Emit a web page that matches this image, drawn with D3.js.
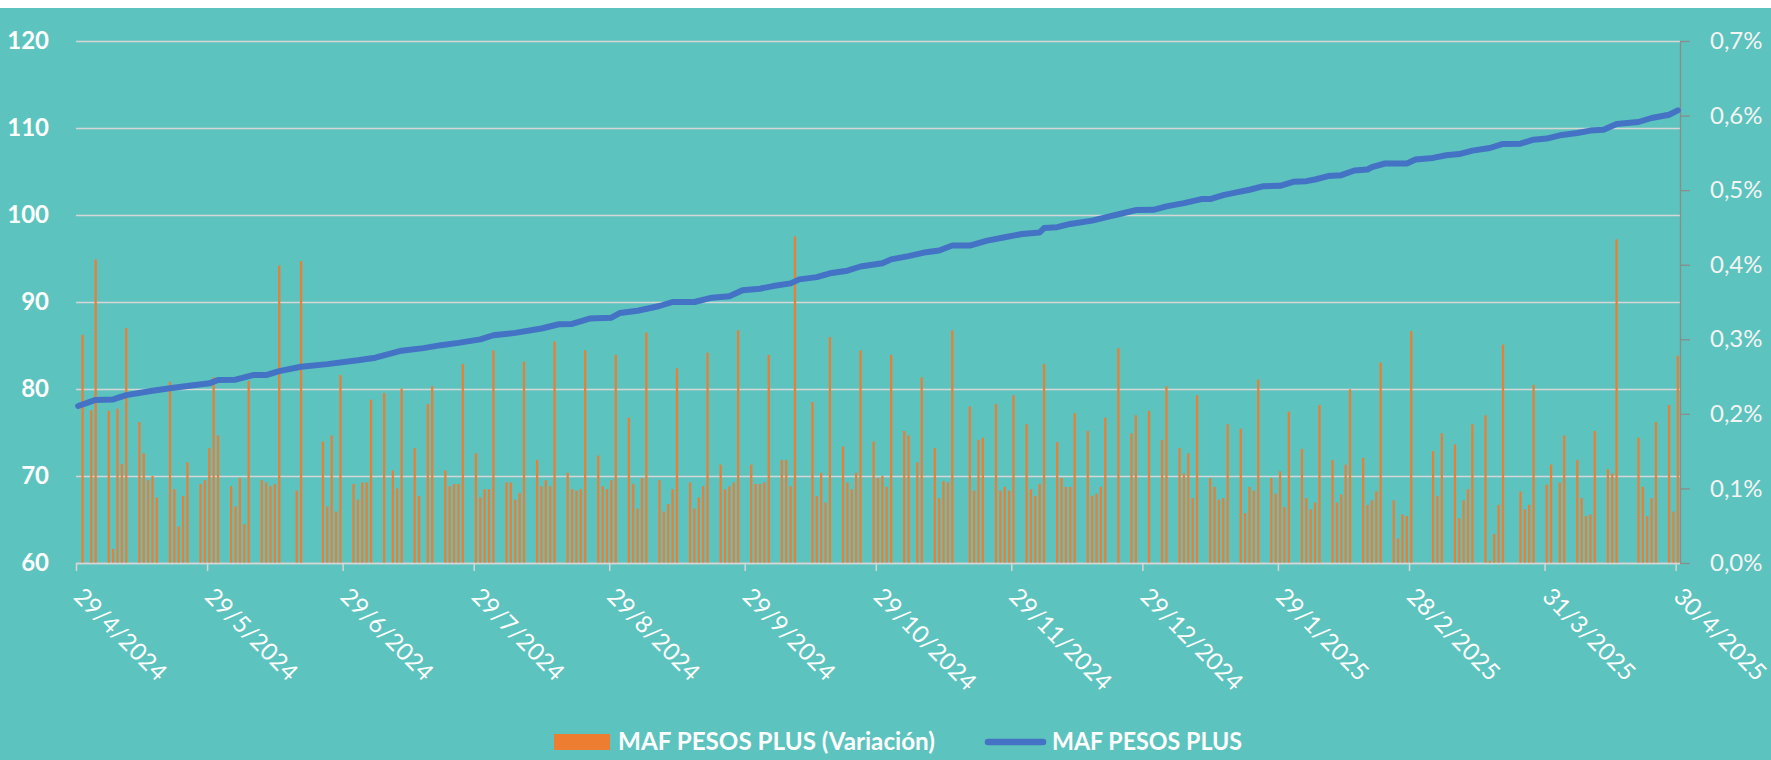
<!DOCTYPE html>
<html>
<head>
<meta charset="utf-8">
<script src="https://cdn.jsdelivr.net/npm/d3@7"></script>
<style>
  body { margin: 0; background: #fff; }
  svg { display: block; font-family: Lato, 'Open Sans', sans-serif; }
</style>
</head>
<body>
<div id="chart"></div>
<script>
// tick labels
const leftTicks = [60, 70, 80, 90, 100, 110, 120]
const rightTicks = [0, 0.1, 0.2, 0.3, 0.4, 0.5, 0.6, 0.7]
const xTicks = ['2024-04-29', '2024-05-29', '2024-06-29', '2024-07-29', '2024-08-29', '2024-09-29',
  '2024-10-29', '2024-11-29', '2024-12-29', '2025-01-29', '2025-02-28', '2025-03-31', '2025-04-30']
const legendLabels = ['MAF PESOS PLUS (Variación)', 'MAF PESOS PLUS']

// daily variation, % (right axis)
const variacion = [
  ['2024-04-30', 0.306], ['2024-05-02', 0.205], ['2024-05-03', 0.407], ['2024-05-06', 0.204], ['2024-05-07', 0.019],
  ['2024-05-08', 0.207], ['2024-05-09', 0.133], ['2024-05-10', 0.315], ['2024-05-13', 0.189], ['2024-05-14', 0.147],
  ['2024-05-15', 0.111], ['2024-05-16', 0.117], ['2024-05-17', 0.088], ['2024-05-20', 0.243], ['2024-05-21', 0.099],
  ['2024-05-22', 0.049], ['2024-05-23', 0.090], ['2024-05-24', 0.135], ['2024-05-27', 0.106], ['2024-05-28', 0.111],
  ['2024-05-29', 0.154], ['2024-05-30', 0.249], ['2024-05-31', 0.171], ['2024-06-03', 0.103], ['2024-06-04', 0.076],
  ['2024-06-05', 0.114], ['2024-06-06', 0.052], ['2024-06-07', 0.244], ['2024-06-10', 0.111], ['2024-06-11', 0.108],
  ['2024-06-12', 0.103], ['2024-06-13', 0.106], ['2024-06-14', 0.399], ['2024-06-18', 0.097], ['2024-06-19', 0.405],
  ['2024-06-24', 0.163], ['2024-06-25', 0.076], ['2024-06-26', 0.171], ['2024-06-27', 0.069], ['2024-06-28', 0.252],
  ['2024-07-01', 0.106], ['2024-07-02', 0.085], ['2024-07-03', 0.108], ['2024-07-04', 0.108], ['2024-07-05', 0.219],
  ['2024-07-08', 0.228], ['2024-07-10', 0.124], ['2024-07-11', 0.100], ['2024-07-12', 0.234], ['2024-07-15', 0.154],
  ['2024-07-16', 0.090], ['2024-07-18', 0.213], ['2024-07-19', 0.237], ['2024-07-22', 0.124], ['2024-07-23', 0.103],
  ['2024-07-24', 0.106], ['2024-07-25', 0.106], ['2024-07-26', 0.267], ['2024-07-29', 0.147], ['2024-07-30', 0.088],
  ['2024-07-31', 0.099], ['2024-08-01', 0.099], ['2024-08-02', 0.285], ['2024-08-05', 0.108], ['2024-08-06', 0.108],
  ['2024-08-07', 0.085], ['2024-08-08', 0.094], ['2024-08-09', 0.270], ['2024-08-12', 0.138], ['2024-08-13', 0.103],
  ['2024-08-14', 0.111], ['2024-08-15', 0.103], ['2024-08-16', 0.297], ['2024-08-19', 0.121], ['2024-08-20', 0.099],
  ['2024-08-21', 0.097], ['2024-08-22', 0.099], ['2024-08-23', 0.285], ['2024-08-26', 0.144], ['2024-08-27', 0.103],
  ['2024-08-28', 0.099], ['2024-08-29', 0.111], ['2024-08-30', 0.279], ['2024-09-02', 0.195], ['2024-09-03', 0.106],
  ['2024-09-04', 0.073], ['2024-09-05', 0.114], ['2024-09-06', 0.309], ['2024-09-09', 0.111], ['2024-09-10', 0.069],
  ['2024-09-11', 0.079], ['2024-09-12', 0.099], ['2024-09-13', 0.261], ['2024-09-16', 0.108], ['2024-09-17', 0.073],
  ['2024-09-18', 0.088], ['2024-09-19', 0.103], ['2024-09-20', 0.282], ['2024-09-23', 0.132], ['2024-09-24', 0.099],
  ['2024-09-25', 0.103], ['2024-09-26', 0.108], ['2024-09-27', 0.312], ['2024-09-30', 0.132], ['2024-10-01', 0.106],
  ['2024-10-02', 0.106], ['2024-10-03', 0.108], ['2024-10-04', 0.279], ['2024-10-07', 0.138], ['2024-10-08', 0.138],
  ['2024-10-09', 0.103], ['2024-10-10', 0.438], ['2024-10-14', 0.216], ['2024-10-15', 0.090], ['2024-10-16', 0.121],
  ['2024-10-17', 0.081], ['2024-10-18', 0.303], ['2024-10-21', 0.156], ['2024-10-22', 0.108], ['2024-10-23', 0.099],
  ['2024-10-24', 0.121], ['2024-10-25', 0.285], ['2024-10-28', 0.163], ['2024-10-29', 0.114], ['2024-10-30', 0.117],
  ['2024-10-31', 0.102], ['2024-11-01', 0.279], ['2024-11-04', 0.177], ['2024-11-05', 0.171], ['2024-11-07', 0.135],
  ['2024-11-08', 0.249], ['2024-11-11', 0.154], ['2024-11-12', 0.087], ['2024-11-13', 0.110], ['2024-11-14', 0.108],
  ['2024-11-15', 0.312], ['2024-11-19', 0.210], ['2024-11-20', 0.097], ['2024-11-21', 0.165], ['2024-11-22', 0.168],
  ['2024-11-25', 0.213], ['2024-11-26', 0.097], ['2024-11-27', 0.102], ['2024-11-28', 0.097], ['2024-11-29', 0.225],
  ['2024-12-02', 0.186], ['2024-12-03', 0.099], ['2024-12-04', 0.090], ['2024-12-05', 0.106], ['2024-12-06', 0.267],
  ['2024-12-09', 0.162], ['2024-12-10', 0.114], ['2024-12-11', 0.102], ['2024-12-12', 0.102], ['2024-12-13', 0.201],
  ['2024-12-16', 0.177], ['2024-12-17', 0.090], ['2024-12-18', 0.093], ['2024-12-19', 0.102], ['2024-12-20', 0.195],
  ['2024-12-23', 0.288], ['2024-12-26', 0.174], ['2024-12-27', 0.198], ['2024-12-30', 0.204], ['2025-01-02', 0.165],
  ['2025-01-03', 0.237], ['2025-01-06', 0.154], ['2025-01-07', 0.120], ['2025-01-08', 0.147], ['2025-01-09', 0.087],
  ['2025-01-10', 0.225], ['2025-01-13', 0.114], ['2025-01-14', 0.102], ['2025-01-15', 0.085], ['2025-01-16', 0.087],
  ['2025-01-17', 0.186], ['2025-01-20', 0.180], ['2025-01-21', 0.067], ['2025-01-22', 0.102], ['2025-01-23', 0.097],
  ['2025-01-24', 0.246], ['2025-01-27', 0.114], ['2025-01-28', 0.093], ['2025-01-29', 0.123], ['2025-01-30', 0.075],
  ['2025-01-31', 0.203], ['2025-02-03', 0.153], ['2025-02-04', 0.087], ['2025-02-05', 0.072], ['2025-02-06', 0.081],
  ['2025-02-07', 0.212], ['2025-02-10', 0.138], ['2025-02-11', 0.081], ['2025-02-12', 0.092], ['2025-02-13', 0.132],
  ['2025-02-14', 0.233], ['2025-02-17', 0.141], ['2025-02-18', 0.078], ['2025-02-19', 0.084], ['2025-02-20', 0.096],
  ['2025-02-21', 0.269], ['2025-02-24', 0.084], ['2025-02-25', 0.033], ['2025-02-26', 0.065], ['2025-02-27', 0.063],
  ['2025-02-28', 0.311], ['2025-03-05', 0.150], ['2025-03-06', 0.090], ['2025-03-07', 0.174], ['2025-03-10', 0.159],
  ['2025-03-11', 0.060], ['2025-03-12', 0.084], ['2025-03-13', 0.099], ['2025-03-14', 0.186], ['2025-03-17', 0.198],
  ['2025-03-18', 0.003], ['2025-03-19', 0.039], ['2025-03-20', 0.078], ['2025-03-21', 0.293], ['2025-03-25', 0.096],
  ['2025-03-26', 0.072], ['2025-03-27', 0.078], ['2025-03-28', 0.239], ['2025-03-31', 0.105], ['2025-04-01', 0.132],
  ['2025-04-03', 0.108], ['2025-04-04', 0.171], ['2025-04-07', 0.138], ['2025-04-08', 0.087], ['2025-04-09', 0.063],
  ['2025-04-10', 0.065], ['2025-04-11', 0.177], ['2025-04-14', 0.126], ['2025-04-15', 0.120], ['2025-04-16', 0.434],
  ['2025-04-21', 0.168], ['2025-04-22', 0.102], ['2025-04-23', 0.063], ['2025-04-24', 0.087], ['2025-04-25', 0.189],
  ['2025-04-28', 0.212], ['2025-04-29', 0.069], ['2025-04-30', 0.278]
]

// fund value (left axis)
const precio = [
  ['2024-04-29', 78.05], ['2024-05-03', 78.74], ['2024-05-07', 78.80], ['2024-05-10', 79.30], ['2024-05-16', 79.80],
  ['2024-05-20', 80.08], ['2024-05-24', 80.34], ['2024-05-29', 80.65], ['2024-05-31', 81.03], ['2024-06-04', 81.07],
  ['2024-06-08', 81.60], ['2024-06-11', 81.60], ['2024-06-14', 82.06], ['2024-06-19', 82.56], ['2024-06-25', 82.86],
  ['2024-07-02', 83.30], ['2024-07-06', 83.60], ['2024-07-12', 84.40], ['2024-07-17', 84.70], ['2024-07-21', 85.04],
  ['2024-07-25', 85.30], ['2024-07-30', 85.70], ['2024-08-02', 86.18], ['2024-08-07', 86.45], ['2024-08-13', 86.95],
  ['2024-08-17', 87.44], ['2024-08-20', 87.48], ['2024-08-24', 88.09], ['2024-08-29', 88.20], ['2024-08-31', 88.74],
  ['2024-09-04', 89.00], ['2024-09-09', 89.54], ['2024-09-12', 90.00], ['2024-09-17', 90.00], ['2024-09-21', 90.50],
  ['2024-09-25', 90.65], ['2024-09-28', 91.34], ['2024-10-02', 91.53], ['2024-10-05', 91.83], ['2024-10-09', 92.14],
  ['2024-10-11', 92.60], ['2024-10-15', 92.86], ['2024-10-18', 93.30], ['2024-10-22', 93.60], ['2024-10-25', 94.08],
  ['2024-10-30', 94.45], ['2024-11-01', 94.90], ['2024-11-05', 95.27], ['2024-11-09', 95.73], ['2024-11-12', 95.92],
  ['2024-11-15', 96.49], ['2024-11-19', 96.49], ['2024-11-23', 97.06], ['2024-11-27', 97.44], ['2024-12-01', 97.82],
  ['2024-12-05', 98.00], ['2024-12-06', 98.50], ['2024-12-09', 98.60], ['2024-12-12', 98.97], ['2024-12-17', 99.35],
  ['2024-12-21', 99.85], ['2024-12-24', 100.20], ['2024-12-27', 100.57], ['2024-12-31', 100.60], ['2025-01-03', 100.99],
  ['2025-01-07', 101.37], ['2025-01-11', 101.83], ['2025-01-13', 101.83], ['2025-01-16', 102.29], ['2025-01-19', 102.60],
  ['2025-01-22', 102.90], ['2025-01-25', 103.30], ['2025-01-29', 103.36], ['2025-02-01', 103.82], ['2025-02-04', 103.89],
  ['2025-02-06', 104.08], ['2025-02-09', 104.47], ['2025-02-12', 104.58], ['2025-02-15', 105.11], ['2025-02-18', 105.23],
  ['2025-02-19', 105.50], ['2025-02-22', 105.92], ['2025-02-27', 105.92], ['2025-03-01', 106.37], ['2025-03-05', 106.56],
  ['2025-03-08', 106.87], ['2025-03-11', 107.00], ['2025-03-14', 107.40], ['2025-03-18', 107.70], ['2025-03-21', 108.17],
  ['2025-03-25', 108.20], ['2025-03-28', 108.66], ['2025-03-31', 108.78], ['2025-04-03', 109.16], ['2025-04-07', 109.43],
  ['2025-04-10', 109.70], ['2025-04-13', 109.80], ['2025-04-16', 110.46], ['2025-04-21', 110.69], ['2025-04-24', 111.15],
  ['2025-04-28', 111.53], ['2025-04-30', 112.02]
]

const W = 1771
const H = 760
const margin = { top: 41, left: 76, right: 91, bottom: 197 }
const width = W - margin.left - margin.right
const height = H - margin.top - margin.bottom

const parse = d3.timeParse('%Y-%m-%d')
const es = d3.formatLocale({ decimal: ',', thousands: '.', grouping: [3], currency: ['$', ''] })
const pct = es.format('.1f')

const svg = d3.select('#chart').append('svg')
  .attr('width', W)
  .attr('height', H)

svg.append('rect').attr('width', W).attr('height', H).attr('fill', '#fff')
svg.append('rect').attr('y', 8).attr('width', W).attr('height', H - 8).attr('fill', '#5cc3be')

const g = svg.append('g')
  .attr('transform', 'translate(' + margin.left + ',' + margin.top + ')')

const xPositionScale = d3.scaleTime()
  .domain([parse('2024-04-29'), parse('2025-05-01')])
  .range([0, width])
const yLeft = d3.scaleLinear().domain([60, 120]).range([height, 0])
const yRight = d3.scaleLinear().domain([0, 0.7]).range([height, 0])

// bars and line sit in the middle of their day
const halfDay = (xPositionScale(parse('2024-04-30')) - xPositionScale(parse('2024-04-29'))) / 2
const xDay = d => xPositionScale(parse(d)) + halfDay

// left axis + gridlines
const yAxisLeft = d3.axisLeft(yLeft).tickValues(leftTicks).tickSize(-width).tickPadding(27)
g.append('g').attr('class', 'axis y-left').call(yAxisLeft)
g.select('.y-left .domain').remove()
g.selectAll('.y-left line').attr('stroke', '#d6d6d6').attr('stroke-width', 1.5)
g.selectAll('.y-left text')
  .attr('fill', '#fff')
  .attr('font-size', 24)
  .attr('font-weight', 'bold')
  .attr('font-family', 'Lato, sans-serif')

// bars
g.selectAll('.bar')
  .data(variacion)
  .join('rect')
  .attr('class', 'bar')
  .attr('x', d => xDay(d[0]) - 1.1)
  .attr('width', 2.2)
  .attr('y', d => yRight(d[1]))
  .attr('height', d => yRight(0) - yRight(d[1]))
  .attr('fill', '#ed7d31')

// x axis
const xAxis = d3.axisBottom(xPositionScale)
  .tickValues(xTicks.map(parse))
  .tickSize(8)
  .tickSizeOuter(0)
  .tickFormat(d3.timeFormat('%-d/%-m/%Y'))
g.append('g')
  .attr('class', 'axis x-axis')
  .attr('transform', 'translate(0,' + height + ')')
  .call(xAxis)
g.select('.x-axis .domain').attr('stroke', '#d6d6d6').attr('stroke-width', 1.5)
g.selectAll('.x-axis line').attr('stroke', '#d6d6d6').attr('stroke-width', 1.5)
g.selectAll('.x-axis text')
  .attr('x', 0)
  .attr('y', 0)
  .attr('dy', 0)
  .attr('text-anchor', 'start')
  .attr('transform', 'translate(-4,35) rotate(45)')
  .attr('fill', '#fff')
  .attr('font-size', 24)
  .attr('font-family', 'Lato, sans-serif')

// right axis
const yAxisRight = d3.axisRight(yRight)
  .tickValues(rightTicks)
  .tickSize(10)
  .tickSizeOuter(0)
  .tickPadding(20)
  .tickFormat(d => pct(d) + '%')
g.append('g')
  .attr('class', 'axis y-right')
  .attr('transform', 'translate(' + width + ',0)')
  .call(yAxisRight)
g.selectAll('.y-right line, .y-right .domain').attr('stroke', '#8c8c8c').attr('stroke-width', 1.3)
g.selectAll('.y-right text')
  .attr('fill', '#f4f4f4')
  .attr('font-size', 24)
  .attr('font-family', 'Lato, sans-serif')

// line
const line = d3.line()
  .x(d => xDay(d[0]))
  .y(d => yLeft(d[1]))
g.append('path')
  .datum(precio)
  .attr('d', line)
  .attr('fill', 'none')
  .attr('stroke', '#4472c4')
  .attr('stroke-width', 6)
  .attr('stroke-linecap', 'round')
  .attr('stroke-linejoin', 'round')

// legend
const legend = svg.append('g').attr('class', 'legend')
legend.append('rect')
  .attr('x', 554).attr('y', 734).attr('width', 56).attr('height', 16)
  .attr('fill', '#ed7d31')
legend.append('text')
  .attr('x', 618).attr('y', 750)
  .attr('font-size', 24)
  .attr('font-weight', 'bold')
  .attr('fill', '#fff')
  .attr('textLength', 317)
  .attr('lengthAdjust', 'spacingAndGlyphs')
  .text(legendLabels[0])
legend.append('line')
  .attr('x1', 988).attr('x2', 1043).attr('y1', 742).attr('y2', 742)
  .attr('stroke', '#4472c4').attr('stroke-width', 6.5).attr('stroke-linecap', 'round')
legend.append('text')
  .attr('x', 1052).attr('y', 750)
  .attr('font-size', 24)
  .attr('font-weight', 'bold')
  .attr('fill', '#fff')
  .attr('textLength', 190)
  .attr('lengthAdjust', 'spacingAndGlyphs')
  .text(legendLabels[1])
</script>
</body>
</html>
